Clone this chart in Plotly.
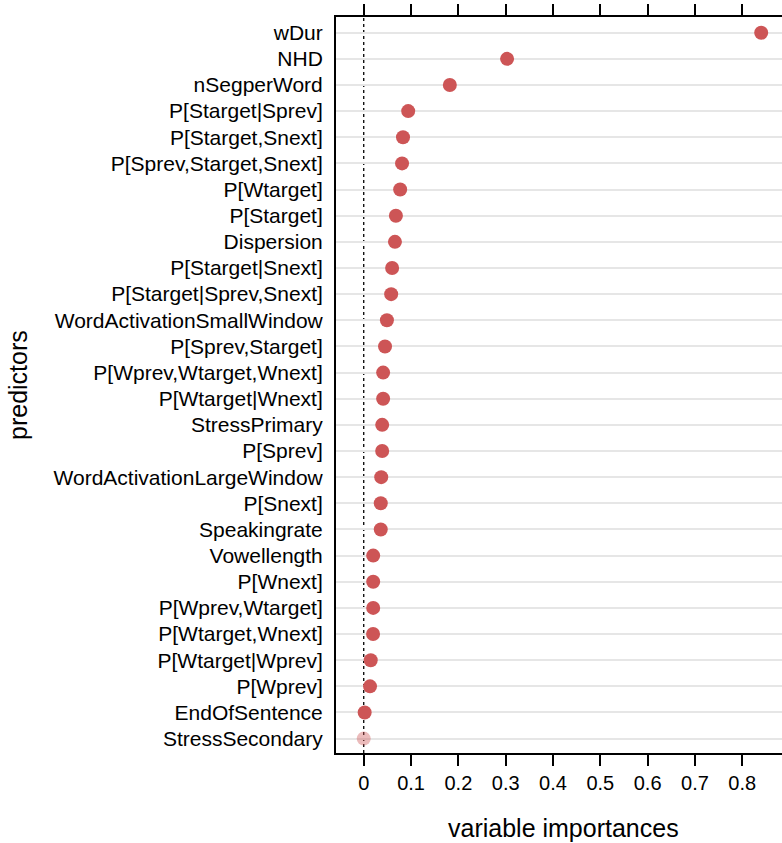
import plotly.graph_objects as go

predictors = [
    "wDur", "NHD", "nSegperWord", "P[Starget|Sprev]", "P[Starget,Snext]",
    "P[Sprev,Starget,Snext]", "P[Wtarget]", "P[Starget]", "Dispersion",
    "P[Starget|Snext]", "P[Starget|Sprev,Snext]", "WordActivationSmallWindow",
    "P[Sprev,Starget]", "P[Wprev,Wtarget,Wnext]", "P[Wtarget|Wnext]",
    "StressPrimary", "P[Sprev]", "WordActivationLargeWindow", "P[Snext]",
    "Speakingrate", "Vowellength", "P[Wnext]", "P[Wprev,Wtarget]",
    "P[Wtarget,Wnext]", "P[Wtarget|Wprev]", "P[Wprev]", "EndOfSentence",
    "StressSecondary",
]
importances = [
    0.840, 0.303, 0.182, 0.094, 0.083,
    0.081, 0.077, 0.068, 0.066,
    0.060, 0.058, 0.049,
    0.045, 0.041, 0.041,
    0.039, 0.039, 0.037, 0.036,
    0.036, 0.020, 0.020, 0.020,
    0.0197, 0.0148, 0.0133, 0.002,
    0.000,
]
x_ticks = [0, 0.1, 0.2, 0.3, 0.4, 0.5, 0.6, 0.7, 0.8]
x_tick_labels = ["0", "0.1", "0.2", "0.3", "0.4", "0.5", "0.6", "0.7", "0.8"]

positions = list(range(len(predictors)))
colors = ["rgba(205,85,86,0.4)" if v <= 0 else "#CD5556" for v in importances]

font_family = "Liberation Sans, Arial, Helvetica, sans-serif"

fig = go.Figure()
fig.add_trace(go.Scatter(
    x=importances, y=positions, mode="markers",
    marker=dict(size=14, color=colors, line=dict(width=0)),
    showlegend=False, hoverinfo="x+text", text=predictors,
))

fig.add_vline(x=0, line=dict(color="black", width=1.3, dash="dot"), layer="below")

fig.update_layout(
    width=782, height=843,
    margin=dict(l=336, r=0, t=17, b=90),
    paper_bgcolor="white", plot_bgcolor="white",
    font=dict(family=font_family, color="black"),
    xaxis=dict(
        range=[-0.0586, 0.884],
        tickvals=x_ticks, ticktext=x_tick_labels,
        ticks="outside", ticklen=11, tickwidth=1.8, tickcolor="black",
        showline=True, linecolor="black", linewidth=2, mirror="ticks",
        showgrid=False, zeroline=False, automargin=False,
        tickfont=dict(size=20, family=font_family),
    ),
    yaxis=dict(
        range=[27.55, -0.6],
        tickvals=positions, ticktext=predictors,
        ticks="", showline=True, linecolor="black", linewidth=2, mirror=False,
        showgrid=True, gridcolor="#E6E6E6", gridwidth=1.5, zeroline=False,
        automargin=False,
        tickfont=dict(size=21, family=font_family),
        ticklabelstandoff=7,
    ),
    annotations=[
        dict(text="variable importances", xref="paper", yref="paper",
             x=0.509, y=-0.102, xanchor="center", yanchor="middle",
             showarrow=False, font=dict(size=25, family=font_family)),
        dict(text="predictors", xref="paper", yref="paper",
             x=-0.713, y=0.5, xanchor="center", yanchor="middle", textangle=-90,
             showarrow=False, font=dict(size=25, family=font_family)),
    ],
)

fig.write_html("out.html", config={"displayModeBar": False},
               post_script="document.body.style.margin='0';")
